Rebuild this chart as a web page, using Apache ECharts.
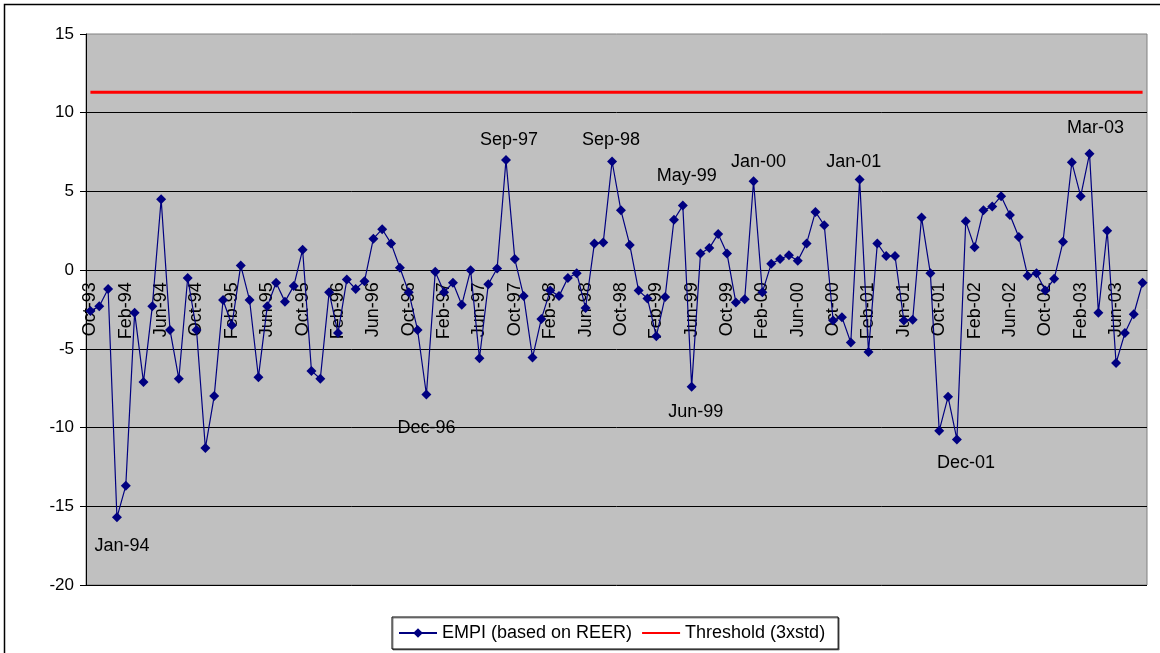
<!DOCTYPE html>
<html>
<head>
<meta charset="utf-8">
<script src="https://cdn.jsdelivr.net/npm/echarts@6/dist/echarts.min.js"></script>
<style>
  html, body { margin: 0; padding: 0; background: #fff; }
  #chartContainer { width: 1160px; height: 653px; }
</style>
</head>
<body>
<div id="chartContainer"></div>
<script>
'use strict';
// monthly categories Oct-93 .. Sep-03
const MONTHS = ['Jan', 'Feb', 'Mar', 'Apr', 'May', 'Jun', 'Jul', 'Aug', 'Sep', 'Oct', 'Nov', 'Dec'];
const START_YEAR = 1993;
const START_MONTH = 9; // Oct
const MONTH_COUNT = 120;

const empi = [
    -2.6, -2.3, -1.2, -15.7, -13.7, -2.7, -7.1, -2.3, 4.5, -3.8,
    -6.9, -0.5, -3.8, -11.3, -8.0, -1.9, -3.5, 0.3, -1.9, -6.8,
    -2.3, -0.8, -2.0, -1.0, 1.3, -6.4, -6.9, -1.4, -4.0, -0.6,
    -1.2, -0.7, 2.0, 2.6, 1.7, 0.15, -1.4, -3.8, -7.9, -0.1,
    -1.4, -0.8, -2.2, 0.0, -5.6, -0.9, 0.1, 7.0, 0.7, -1.65,
    -5.55, -3.1, -1.3, -1.65, -0.5, -0.2, -2.4, 1.7, 1.75, 6.9,
    3.8, 1.6, -1.3, -1.8, -4.2, -1.7, 3.2, 4.1, -7.4, 1.05,
    1.4, 2.3, 1.05, -2.05, -1.85, 5.65, -1.4, 0.4, 0.7, 0.95,
    0.6, 1.7, 3.7, 2.85, -3.2, -3.0, -4.6, 5.75, -5.2, 1.7,
    0.9, 0.9, -3.2, -3.15, 3.35, -0.2, -10.2, -8.05, -10.75, 3.1,
    1.45, 3.8, 4.05, 4.7, 3.5, 2.1, -0.35, -0.2, -1.3, -0.55,
    1.8, 6.85, 4.7, 7.4, -2.7, 2.5, -5.9, -4.0, -2.8, -0.8
];
const THRESHOLD = 11.3;
const labelled = ['Jan-94', 'Dec-96', 'Sep-97', 'Sep-98', 'May-99', 'Jun-99', 'Jan-00', 'Jan-01', 'Dec-01', 'Mar-03'];
const yTicks = { min: -20, max: 15, step: 5 };

let categories = [];
for (let i = 0; i < MONTH_COUNT; i++) {
    let m = (START_MONTH + i) % 12;
    let y = START_YEAR + Math.floor((START_MONTH + i) / 12);
    categories.push(MONTHS[m] + '-' + String(y % 100).padStart(2, '0'));
}

// where each annotation sits relative to its point
const labelOffsets = {
    'Jan-94': [5, 29], 'Dec-96': [0, 34], 'Sep-97': [3, -20], 'Sep-98': [-1, -21],
    'May-99': [4, -30], 'Jun-99': [4, 25], 'Jan-00': [5, -19], 'Jan-01': [-6, -18],
    'Dec-01': [9, 24], 'Mar-03': [6, -26]
};

let empiData = empi.map(function(v, i) {
    let name = categories[i];
    if (labelled.indexOf(name) < 0) return v;
    return {
        value: v,
        label: {
            show: true,
            position: 'inside',
            offset: labelOffsets[name],
            formatter: name,
            fontSize: 18,
            color: '#000'
        }
    };
});

let chart = echarts.init(document.getElementById('chartContainer'));
let fontFamily = "'Liberation Sans', Arial, sans-serif";

let gridTop = 34, gridBottom = 68;
let plotHeight = 653 - gridTop - gridBottom;
// move the category axis up to the zero line
let zeroShift = plotHeight * (0 - yTicks.min) / (yTicks.max - yTicks.min);

let option = {
    backgroundColor: '#fff',
    animation: false,
    textStyle: { fontFamily: fontFamily },
    graphic: [{
        type: 'rect',
        shape: { x: 4.5, y: 4.5, width: 1200, height: 700 },
        style: { fill: 'none', stroke: '#000', lineWidth: 1.5 },
        silent: true
    }],
    grid: {
        left: 86,
        right: 13,
        top: gridTop,
        bottom: gridBottom,
        show: true,
        backgroundColor: '#C0C0C0',
        borderColor: '#808080',
        borderWidth: 1
    },
    legend: {
        left: 392,
        top: 617,
        padding: [7, 13, 7, 6],
        itemWidth: 38,
        itemHeight: 12,
        itemGap: 9,
        borderColor: '#000',
        borderWidth: 1,
        shadowColor: 'rgba(0,0,0,0.45)',
        shadowOffsetX: 1,
        shadowOffsetY: 1,
        backgroundColor: '#fff',
        textStyle: { fontSize: 18, color: '#000', fontFamily: fontFamily },
        data: [
            { name: 'EMPI (based on REER)' },
            { name: 'Threshold (3xstd)', itemStyle: { opacity: 0 } }
        ]
    },
    xAxis: {
        type: 'category',
        data: categories,
        boundaryGap: true,
        offset: -zeroShift,
        axisLine: { onZero: false, lineStyle: { color: '#000', width: 1 } },
        axisTick: { interval: 3, length: 5, lineStyle: { color: '#000' } },
        axisLabel: {
            interval: 3,
            rotate: 90,
            margin: 12,
            fontSize: 18,
            color: '#000'
        },
        splitLine: { show: false }
    },
    yAxis: {
        type: 'value',
        min: yTicks.min,
        max: yTicks.max,
        interval: yTicks.step,
        axisLine: { show: true, lineStyle: { color: '#000' } },
        axisTick: { show: true, length: 6, lineStyle: { color: '#000' } },
        axisLabel: { margin: 12, fontSize: 17, color: '#000' },
        splitLine: { showMaxLine: false, lineStyle: { color: '#000', width: 1 } }
    },
    series: [{
        name: 'EMPI (based on REER)',
        type: 'line',
        data: empiData,
        symbol: 'diamond',
        symbolSize: 10,
        showAllSymbol: true,
        itemStyle: { color: '#000080' },
        lineStyle: { color: '#000080', width: 1.2 },
        z: 3
    }, {
        name: 'Threshold (3xstd)',
        type: 'line',
        data: categories.map(function() { return THRESHOLD; }),
        symbol: 'none',
        itemStyle: { color: '#FF0000' },
        lineStyle: { color: '#FF0000', width: 3 },
        z: 2
    }]
};

chart.setOption(option);
</script>
</body>
</html>
